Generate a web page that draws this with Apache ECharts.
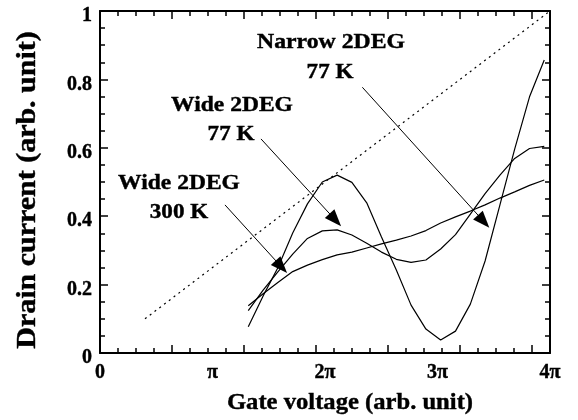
<!DOCTYPE html>
<html>
<head>
<meta charset="utf-8">
<script src="https://cdn.jsdelivr.net/npm/echarts@6/dist/echarts.min.js"></script>
<style>
html,body{margin:0;padding:0;background:#fff;}
#chart{width:578px;height:420px;}
</style>
</head>
<body>
<div id="chart"></div>
<script>
// Gate voltage in units of pi
const xValues = [1.318, 1.450, 1.581, 1.713, 1.844, 1.976, 2.108, 2.239, 2.371, 2.502, 2.634,
                 2.765, 2.897, 3.028, 3.160, 3.292, 3.423, 3.555, 3.686, 3.818, 3.949];
const narrow77 = [0.077, 0.167, 0.249, 0.351, 0.436, 0.500, 0.520, 0.499, 0.439, 0.339, 0.243,
                  0.140, 0.070, 0.038, 0.064, 0.143, 0.269, 0.433, 0.596, 0.749, 0.857];
const wide77 = [0.124, 0.184, 0.237, 0.289, 0.335, 0.357, 0.360, 0.345, 0.321, 0.295, 0.274,
                0.265, 0.272, 0.304, 0.346, 0.406, 0.466, 0.520, 0.569, 0.598, 0.604];
const wide300 = [0.138, 0.173, 0.206, 0.238, 0.257, 0.273, 0.287, 0.295, 0.307, 0.319, 0.330,
                 0.342, 0.358, 0.380, 0.398, 0.415, 0.433, 0.453, 0.471, 0.490, 0.506];
const dottedX = [0.4, 4];
const dottedY = [0.1, 1];
const xTickLabels = ['0', 'π', '2π', '3π', '4π'];
const annotationArrows = [
  [[2.332, 0.777], [3.410, 0.385]],
  [[1.431, 0.626], [2.092, 0.389]],
  [[1.111, 0.433], [1.612, 0.252]]
];

const FONT = '"Liberation Serif", "Times New Roman", serif';
const pair = (xs, ys) => xs.map((x, i) => [x, ys[i]]);

const chart = echarts.init(document.getElementById('chart'), null, {renderer: 'canvas'});

const tickAxis = (pos, max, interval, len) => ({
  type: 'value', position: pos, min: 0, max: max, interval: interval,
  axisLine: {show: false}, splitLine: {show: false},
  axisLabel: {show: false},
  axisTick: {show: true, inside: true, length: len, lineStyle: {color: '#000', width: 1.5}}
});

const lineSeries = (data) => ({
  type: 'line', data: data, xAxisIndex: 0, yAxisIndex: 0,
  showSymbol: false, symbol: 'none', smooth: false, silent: true,
  lineStyle: {color: '#000', width: 1.2}
});

const txt = (x, y, text, size, sx, rot) => ({
  type: 'text', x: x, y: y, rotation: rot || 0, scaleX: sx,
  style: {text: text, font: 'bold ' + size + 'px ' + FONT, align: 'center', verticalAlign: 'middle',
          fill: '#000', stroke: '#000', lineWidth: 0.4}
});

const option = {
  animation: false,
  backgroundColor: '#fff',
  grid: {left: 100, right: 28, top: 11, bottom: 67, show: false},
  xAxis: [
    {
      type: 'value', position: 'bottom', min: 0, max: 4, interval: 1,
      axisLine: {show: true, onZero: false, lineStyle: {color: '#000', width: 2}},
      axisTick: {show: false}, splitLine: {show: false},
      axisLabel: {
        margin: 10, color: '#000', fontFamily: FONT, fontWeight: 'bold', fontSize: 20,
        textBorderColor: '#000', textBorderWidth: 0.4,
        formatter: (v) => xTickLabels[Math.round(v)]
      }
    },
    tickAxis('bottom', 25, 1, 5),
    tickAxis('bottom', 25, 4, 8),
    Object.assign(tickAxis('top', 25, 1, 5), {axisLine: {show: true, onZero: false, lineStyle: {color: '#000', width: 2}}}),
    tickAxis('top', 25, 4, 8)
  ],
  yAxis: [
    {
      type: 'value', position: 'left', min: 0, max: 1, interval: 0.2,
      axisLine: {show: true, onZero: false, lineStyle: {color: '#000', width: 2}},
      axisTick: {show: true, inside: true, length: 8, lineStyle: {color: '#000', width: 1.5}},
      minorTick: {show: true, splitNumber: 4, length: 5, lineStyle: {color: '#000', width: 1.5}},
      splitLine: {show: false},
      axisLabel: {
        margin: 8, color: '#000', fontFamily: FONT, fontWeight: 'bold', fontSize: 20,
        textBorderColor: '#000', textBorderWidth: 0.4,
        verticalAlign: 'top', lineHeight: 10
      }
    },
    {
      type: 'value', position: 'right', min: 0, max: 1, interval: 0.2,
      axisLine: {show: true, onZero: false, lineStyle: {color: '#000', width: 2}},
      axisTick: {show: true, inside: true, length: 8, lineStyle: {color: '#000', width: 1.5}},
      minorTick: {show: true, splitNumber: 4, length: 5, lineStyle: {color: '#000', width: 1.5}},
      splitLine: {show: false},
      axisLabel: {show: false}
    }
  ],
  series: [
    {
      type: 'line', data: pair(dottedX, dottedY), xAxisIndex: 0, yAxisIndex: 0,
      showSymbol: false, symbol: 'none', silent: true,
      lineStyle: {color: '#000', width: 1.2, type: [2, 4]}
    },
    lineSeries(pair(xValues, narrow77)),
    lineSeries(pair(xValues, wide77)),
    Object.assign(lineSeries(pair(xValues, wide300)), {
      markLine: {
        silent: true, animation: false,
        symbol: ['none', 'triangle'], symbolSize: [13, 17],
        label: {show: false},
        itemStyle: {color: '#000'},
        lineStyle: {color: '#000', width: 1, type: 'solid'},
        emphasis: {disabled: true},
        data: annotationArrows.map(a => [{coord: a[0]}, {coord: a[1]}])
      }
    })
  ],
  graphic: [
    txt(331, 43, 'Narrow 2DEG', 21, 1.13),
    txt(330, 73, '77 K', 21, 1.1),
    txt(232, 106, 'Wide 2DEG', 21, 1.12),
    txt(231, 135, '77 K', 21, 1.1),
    txt(179, 184, 'Wide 2DEG', 21, 1.12),
    txt(179, 213, '300 K', 21, 1.1),
    txt(350, 403, 'Gate voltage (arb. unit)', 23, 1.07),
    txt(28, 190, 'Drain current (arb. unit)', 27, 1.11, Math.PI / 2)
  ]
};
chart.setOption(option);
</script>
</body>
</html>
